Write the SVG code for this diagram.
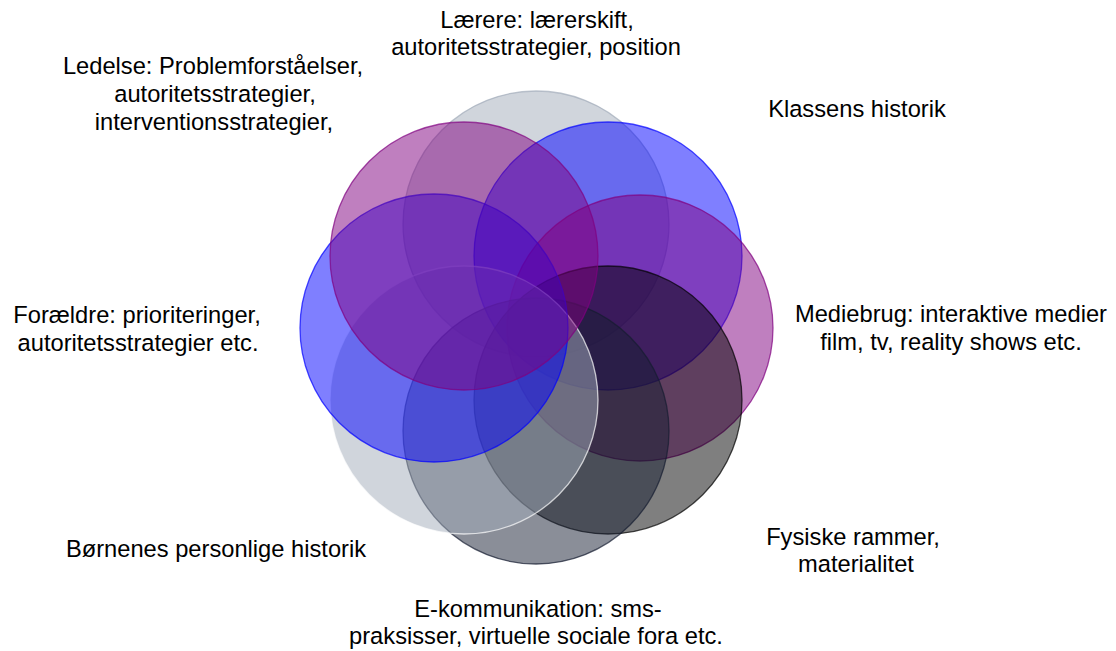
<svg xmlns="http://www.w3.org/2000/svg" width="1116" height="651" viewBox="0 0 1116 651">
<style>
.c{fill-opacity:0.5;stroke-width:1.3;stroke-opacity:0.7}
.gray{fill:#a1abb9;stroke:#a1abb9}
.blue{fill:#0000ff;stroke:#0000ff}
.purple{fill:#800080;stroke:#800080}
.black{fill:#000000;stroke:#000000}
.dark{fill:#151d31;stroke:#151d31}
.light{fill:#a1abb9;stroke:#ffffff}
text{font-family:"Liberation Sans",Arial,sans-serif;font-size:23.7px;fill:#000;text-anchor:middle}
</style>
<rect width="1116" height="651" fill="#ffffff"/>
<g id="circles">
<g id="node-laerere-circle"><circle class="c gray" cx="536" cy="224" r="133"/></g>
<g id="node-klassens-circle"><circle class="c blue" cx="608" cy="256" r="134"/></g>
<g id="node-mediebrug-circle"><circle class="c purple" cx="640" cy="328" r="133"/></g>
<g id="node-fysiske-circle"><circle class="c black" cx="608" cy="400" r="134"/></g>
<g id="node-ekomm-circle"><circle class="c dark" cx="536" cy="431" r="133"/></g>
<g id="node-boernenes-circle"><circle class="c light" cx="464" cy="400" r="134"/></g>
<g id="node-foraeldre-circle"><circle class="c blue" cx="434" cy="328" r="134"/></g>
<g id="node-ledelse-circle"><circle class="c purple" cx="464" cy="256" r="134"/></g>
</g>
<g id="connectors"></g>
<g id="labels">
<g id="node-laerere"><text x="537" y="28">Lærere: lærerskift,</text><text x="536" y="55">autoritetsstrategier, position</text></g>
<g id="node-klassens"><text x="857" y="117">Klassens historik</text></g>
<g id="node-ledelse"><text x="213" y="74">Ledelse: Problemforståelser,</text><text x="215" y="102">autoritetsstrategier,</text><text x="214" y="130">interventionsstrategier,</text></g>
<g id="node-foraeldre"><text x="137" y="323">Forældre: prioriteringer,</text><text x="138" y="351">autoritetsstrategier etc.</text></g>
<g id="node-mediebrug"><text x="951" y="322">Mediebrug: interaktive medier</text><text x="951" y="350">film, tv, reality shows etc.</text></g>
<g id="node-boernenes"><text x="216" y="557">Børnenes personlige historik</text></g>
<g id="node-fysiske"><text x="853" y="545">Fysiske rammer,</text><text x="856" y="572">materialitet</text></g>
<g id="node-ekomm"><text x="538" y="617">E-kommunikation: sms-</text><text x="536" y="644">praksisser, virtuelle sociale fora etc.</text></g>
</g>
</svg>
